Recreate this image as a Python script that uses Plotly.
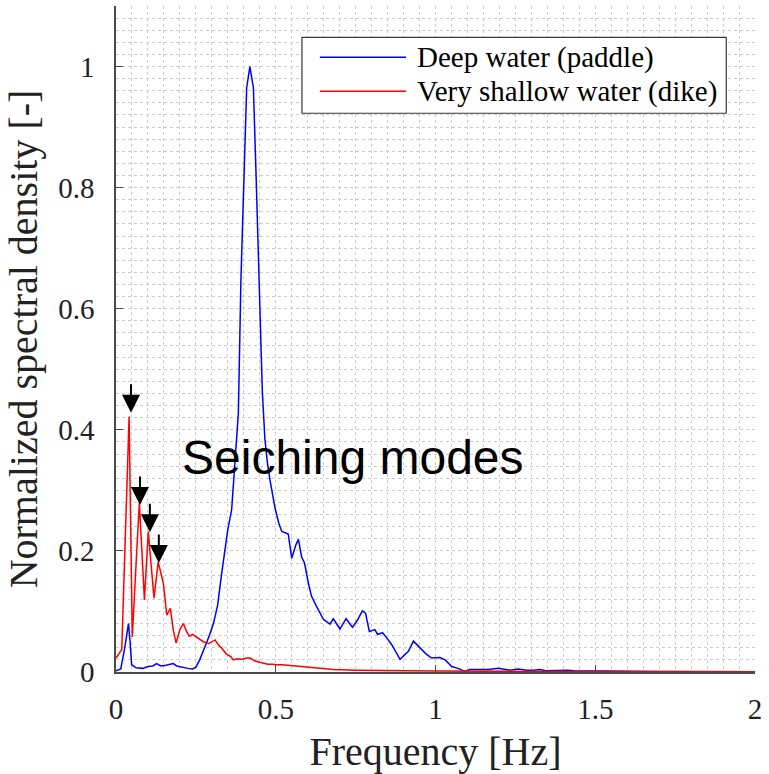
import plotly.graph_objects as go

# ---- data ----
freq_deep = [0.000, 0.015, 0.028, 0.039, 0.044, 0.049, 0.063, 0.084, 0.100, 0.115, 0.127, 0.140,
             0.157, 0.168, 0.179, 0.190, 0.205, 0.225, 0.240, 0.250, 0.262, 0.278, 0.292, 0.305,
             0.318, 0.330, 0.340, 0.350, 0.362, 0.372, 0.383, 0.391, 0.400, 0.409, 0.419, 0.430,
             0.438, 0.446, 0.452, 0.458, 0.466, 0.474, 0.482, 0.490, 0.498, 0.510, 0.519, 0.539,
             0.550, 0.563, 0.571, 0.581, 0.590, 0.602, 0.612, 0.628, 0.649, 0.670, 0.680, 0.701,
             0.720, 0.740, 0.755, 0.771, 0.781, 0.793, 0.810, 0.819, 0.834, 0.845, 0.863, 0.889,
             0.915, 0.931, 0.952, 0.970, 0.988, 1.014, 1.030, 1.051, 1.070, 1.092, 1.107, 1.140,
             1.165, 1.197, 1.233, 1.259, 1.285, 1.305, 1.327, 1.345, 1.413, 1.434, 1.487, 1.580,
             1.700, 2.000]
psd_deep = [0.002, 0.005, 0.042, 0.080, 0.050, 0.012, 0.007, 0.006, 0.009, 0.010, 0.014, 0.010,
            0.011, 0.012, 0.014, 0.010, 0.008, 0.006, 0.005, 0.008, 0.020, 0.040, 0.060, 0.080,
            0.110, 0.160, 0.200, 0.235, 0.268, 0.339, 0.428, 0.648, 0.800, 0.965, 1.000, 0.965,
            0.828, 0.690, 0.570, 0.463, 0.385, 0.345, 0.317, 0.290, 0.270, 0.245, 0.232, 0.228,
            0.188, 0.210, 0.219, 0.190, 0.180, 0.147, 0.125, 0.108, 0.087, 0.079, 0.088, 0.071,
            0.088, 0.074, 0.085, 0.101, 0.097, 0.067, 0.070, 0.062, 0.065, 0.058, 0.045, 0.021,
            0.034, 0.051, 0.040, 0.030, 0.023, 0.024, 0.020, 0.009, 0.006, 0.001, 0.004, 0.004,
            0.004, 0.006, 0.003, 0.005, 0.003, 0.003, 0.004, 0.002, 0.003, 0.002, 0.002, 0.001,
            0.0008, 0.0005]

freq_shallow = [0.000, 0.018, 0.041, 0.051, 0.062, 0.073, 0.081, 0.089, 0.101, 0.110, 0.119, 0.132,
                0.140, 0.148, 0.159, 0.170, 0.179, 0.188, 0.200, 0.211, 0.220, 0.229, 0.240, 0.252,
                0.262, 0.273, 0.290, 0.300, 0.310, 0.320, 0.330, 0.345, 0.360, 0.367, 0.380, 0.395,
                0.409, 0.420, 0.435, 0.450, 0.461, 0.475, 0.490, 0.500, 0.520, 0.540, 0.576, 0.620,
                0.680, 0.750, 0.850, 1.000, 1.300, 1.600, 2.000]
psd_shallow = [0.023, 0.037, 0.422, 0.058, 0.170, 0.279, 0.200, 0.119, 0.232, 0.170, 0.122, 0.182,
               0.165, 0.147, 0.094, 0.105, 0.070, 0.048, 0.070, 0.080, 0.068, 0.059, 0.062, 0.058,
               0.055, 0.050, 0.047, 0.050, 0.053, 0.045, 0.040, 0.030, 0.025, 0.020, 0.022, 0.021,
               0.023, 0.023, 0.018, 0.016, 0.015, 0.013, 0.013, 0.012, 0.012, 0.011, 0.008, 0.006,
               0.004, 0.003, 0.002, 0.0015, 0.001, 0.0008, 0.0005]

# seiching-mode peaks marked with arrows (frequency, tip level)
arrow_freq = [0.047, 0.075, 0.106, 0.134]
arrow_tip = [0.428, 0.276, 0.231, 0.180]

series_names = ["Deep water (paddle)", "Very shallow water (dike)"]
x_ticks = [0, 0.5, 1, 1.5, 2]
y_ticks = [0, 0.2, 0.4, 0.6, 0.8, 1]

SERIF = "Liberation Serif"
SANS = "Liberation Sans"

fig = go.Figure()
fig.add_trace(go.Scatter(x=freq_deep, y=psd_deep, mode="lines", name=series_names[0],
                         line=dict(color="#0000ff", width=1.5), showlegend=False))
fig.add_trace(go.Scatter(x=freq_shallow, y=psd_shallow, mode="lines", name=series_names[1],
                         line=dict(color="#ff0000", width=1.5), showlegend=False))

annotations = []
for fx, fy in zip(arrow_freq, arrow_tip):
    annotations.append(dict(x=fx, y=fy, xref="x", yref="y", text="", showarrow=True,
                            ax=0, ay=-30, arrowhead=2, arrowsize=1.8, arrowwidth=2,
                            arrowcolor="black", standoff=0))

annotations.append(dict(x=0.2, y=0.355, xref="x", yref="y", text="Seiching modes",
                        showarrow=False, xanchor="left", yanchor="middle",
                        font=dict(family=SANS, size=48, color="black")))

# legend drawn in paper coordinates
leg_x0, leg_x1, leg_y0, leg_y1 = 0.291, 0.955, 0.839, 0.953
line_x0, line_x1 = 0.319, 0.454
row_y = [0.923, 0.872]
colors = ["#0000ff", "#ff0000"]
shapes = [dict(type="rect", xref="paper", yref="paper", x0=leg_x0, x1=leg_x1, y0=leg_y0, y1=leg_y1,
               fillcolor="white", line=dict(color="#3a3a3a", width=1.2), layer="above")]
for ry, c, name in zip(row_y, colors, series_names):
    shapes.append(dict(type="line", xref="paper", yref="paper", x0=line_x0, x1=line_x1, y0=ry, y1=ry,
                       line=dict(color=c, width=1.5), layer="above"))
    annotations.append(dict(x=0.468, y=ry, xref="paper", yref="paper", text=name, showarrow=False,
                            xanchor="left", yanchor="middle",
                            font=dict(family=SERIF, size=29, color="black")))

grid_color = "#cccccc"
axis_common = dict(
    showline=True, linecolor="#4a4a4a", linewidth=1.5, mirror=False,
    ticks="inside", ticklen=7, tickwidth=1.2, tickcolor="#4a4a4a",
    tickfont=dict(family=SERIF, size=29, color="#222222"),
    showgrid=True, gridcolor=grid_color, griddash="dot", gridwidth=1,
    zeroline=False, layer="below traces",
)

fig.update_layout(
    width=769, height=774,
    margin=dict(l=116, r=14, t=6, b=102),
    paper_bgcolor="white", plot_bgcolor="white",
    font=dict(family=SERIF),
    xaxis=dict(axis_common, range=[0, 2], tickvals=x_ticks, ticktext=[f"{v:g}" for v in x_ticks],
               ticklabelstandoff=10,
               minor=dict(dtick=0.05, showgrid=True, gridcolor=grid_color, griddash="dot",
                          gridwidth=1, ticks=""),
               title=dict(text="Frequency [Hz]", font=dict(family=SERIF, size=40, color="#222222"),
                         standoff=16)),
    yaxis=dict(axis_common, range=[0, 1.1], tickvals=y_ticks, ticktext=[f"{v:g}" for v in y_ticks],
               ticklabelstandoff=14,
               minor=dict(dtick=0.02, showgrid=True, gridcolor=grid_color, griddash="dot",
                          gridwidth=1, ticks=""),
               title=dict(text="Normalized spectral density [-]",
                          font=dict(family=SERIF, size=40, color="#222222"), standoff=8)),
    shapes=shapes,
    annotations=annotations,
    showlegend=False,
)

fig.write_html("out.html")
